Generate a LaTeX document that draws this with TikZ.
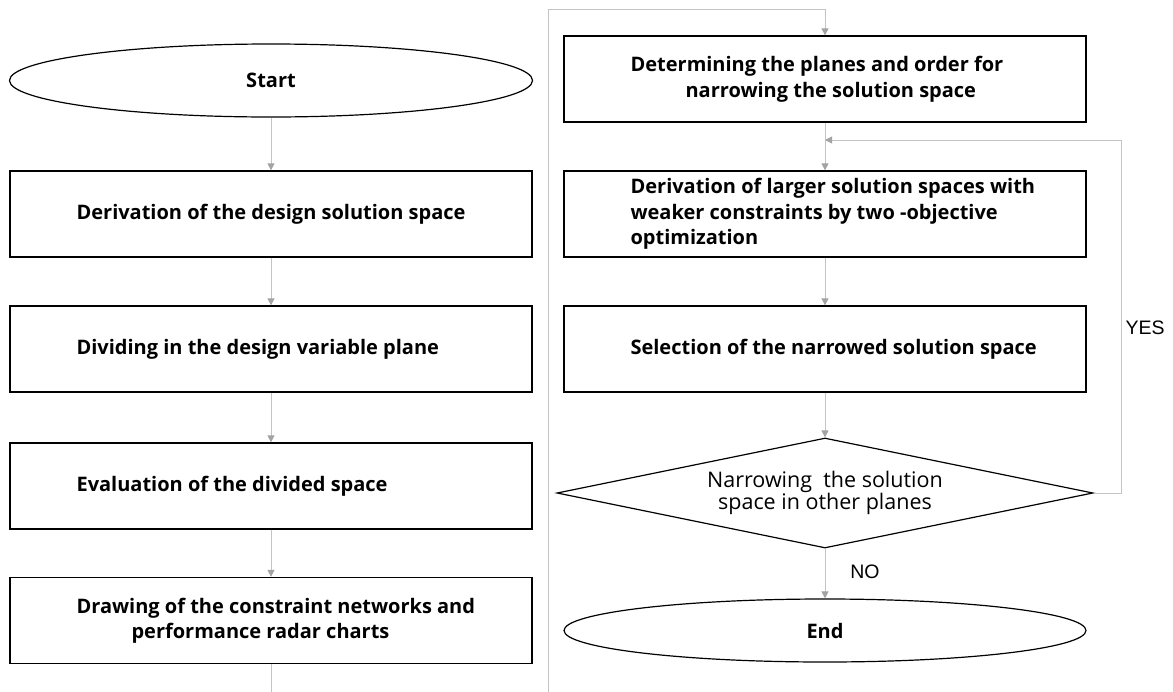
\documentclass[tikz,border=0pt]{standalone}
\usepackage{fontspec}
\setmainfont{Open Sans}
\newfontfamily\arialf{Liberation Sans}
\usetikzlibrary{shapes.geometric,arrows.meta}
\definecolor{linegray}{HTML}{C4C4C4}
\definecolor{arrowgray}{HTML}{A3A3A3}
\begin{document}
\begin{tikzpicture}[x=1pt,y=-1pt,
  stepbox/.style={draw=black,line width=1.3pt,rectangle,minimum width=522pt,minimum height=86pt,inner sep=0pt},
  steptext/.style={anchor=west,inner sep=0pt,align=left,font=\fontsize{20}{25.5}\selectfont\bfseries},
  term/.style={draw=black,line width=1.2pt,ellipse,inner sep=0pt,font=\fontsize{20}{24}\selectfont\bfseries},
  decision/.style={draw=black,line width=1.2pt,diamond,aspect=4.87,inner sep=0pt,minimum width=536pt,minimum height=110pt,align=center,font=\fontsize{21.5}{22}\selectfont},
  conn/.style={draw=linegray,line width=1pt,-{Triangle[width=7pt,length=7pt,color=arrowgray]}},
  lbl/.style={inner sep=0pt,font=\arialf\fontsize{19.5}{22}\selectfont}]
\useasboundingbox (0,0) rectangle (1173,691);
\clip (0,0) rectangle (1173,691);
% left column
\node[term,minimum width=523pt,minimum height=73pt] (start) at (271,80.5) {Start};
\node[stepbox] (b1) at (271,214) {};
\node[stepbox] (b2) at (271,349) {};
\node[stepbox] (b3) at (271,486) {};
\node[stepbox] (b4) at (271,620.5) {};
\node[steptext] (t1) at ([xshift=67pt]b1.west) {Derivation of the design solution space};
\node[steptext] (t2) at ([xshift=67pt]b2.west) {Dividing in the design variable plane};
\node[steptext] (t3) at ([xshift=67pt]b3.west) {Evaluation of the divided space};
\node[steptext] (t4) at ([xshift=67pt]b4.west) {Drawing of the constraint networks and\\\hspace*{55pt}performance radar charts};
% right column
\node[stepbox] (r1) at (825,79) {};
\node[stepbox] (r2) at (825,214) {};
\node[stepbox] (r3) at (825,349) {};
\node[steptext] (s1) at ([xshift=67pt]r1.west) {Determining the planes and order for\\\hspace*{55pt}narrowing the solution space};
\node[steptext] (s2) at ([xshift=67pt]r2.west) {Derivation of larger solution spaces with\\weaker constraints by two -objective\\optimization};
\node[steptext] (s3) at ([xshift=67pt]r3.west) {Selection of the narrowed solution space};
\node[decision] (dec) at (825,493) {Narrowing\ \ the solution\\space in other planes};
\node[term,minimum width=522pt,minimum height=63pt] (end) at (825,630.5) {End};
\node[lbl] (no) at (865,572) {NO};
\node[lbl] (yes) at (1145,328) {YES};
\coordinate (lp) at (825,140);
% connectors
\draw[conn] (start) -- (b1);
\draw[conn] (b1) -- (b2);
\draw[conn] (b2) -- (b3);
\draw[conn] (b3) -- (b4);
\draw[conn] (b4.south) |- (548,720) -- (548,9) -| (r1.north);
\draw[conn] (r1) -- (r2);
\draw[conn] (r2) -- (r3);
\draw[conn] (r3) -- (dec);
\draw[conn] (dec) -- (end);
\draw[conn] (dec.east) -- ++(28,0) |- (lp);
\end{tikzpicture}
\end{document}
